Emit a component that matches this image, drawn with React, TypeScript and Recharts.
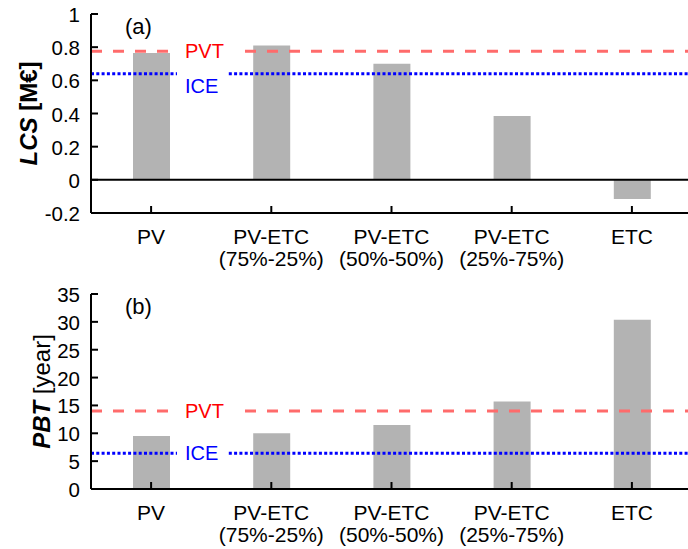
import React from 'react';
import { BarChart, Bar, XAxis, YAxis, ReferenceLine } from 'recharts';

const categories = ['PV', 'PV-ETC', 'PV-ETC', 'PV-ETC', 'ETC'];
const subLabels = ['', '(75%-25%)', '(50%-50%)', '(25%-75%)', ''];
const lcsValues = [0.765, 0.81, 0.70, 0.385, -0.115];
const pbtValues = [9.5, 10.0, 11.5, 15.7, 30.4];
const lcsTicks = [-0.2, 0, 0.2, 0.4, 0.6, 0.8, 1];
const pbtTicks = [0, 5, 10, 15, 20, 25, 30, 35];
const lcsRefs = { PVT: 0.775, ICE: 0.64 };
const pbtRefs = { PVT: 14.0, ICE: 6.4 };

const FONT = 'Liberation Sans, Arial, sans-serif';

const data = categories.map((c, i) => ({
  name: c,
  sub: subLabels[i],
  lcs: lcsValues[i],
  pbt: pbtValues[i],
}));

const XTick = (props: any) => {
  const { x, y, index } = props;
  return (
    <g>
      <line x1={x} x2={x} y1={y} y2={y - 7} stroke="#000" strokeWidth={2} />
      <text x={x} y={y + 31} textAnchor="middle" fontSize={21} fontFamily={FONT} fill="#000">
        {categories[index]}
      </text>
      {subLabels[index] && (
        <text x={x} y={y + 53} textAnchor="middle" fontSize={21} fontFamily={FONT} fill="#000">
          {subLabels[index]}
        </text>
      )}
    </g>
  );
};

const YTick = (props: any) => {
  const { x, y, payload } = props;
  const v = Math.round(payload.value * 10) / 10;
  return (
    <g>
      <line x1={x} x2={x + 7} y1={y} y2={y} stroke="#000" strokeWidth={2} />
      <text x={x - 11} y={y + 8} textAnchor="end" fontSize={20.5} fontFamily={FONT} fill="#000">
        {String(v)}
      </text>
    </g>
  );
};

// label on a reference line, with a white box that breaks the line behind it
const refLabel = (text: string, color: string, dy: number, padL: number, boxW: number) => (props: any) => {
  const { viewBox } = props;
  const tx = viewBox.x + 94;
  const ty = viewBox.y + dy;
  const top = Math.min(viewBox.y - 5, ty - 12);
  return (
    <g>
      <rect x={tx - padL} y={top} width={boxW} height={ty + 12 - top} fill="#fff" />
      <text x={tx} y={ty + 7} fontSize={20} fontFamily={FONT} fill={color}>
        {text}
      </text>
    </g>
  );
};

const yLabel = (main: string, unit: string, unitBold: boolean, dx: number) => (props: any) => {
  const { viewBox } = props;
  const cx = viewBox.x + dx;
  const cy = viewBox.y + viewBox.height / 2;
  return (
    <text
      x={cx}
      y={cy}
      transform={`rotate(-90, ${cx}, ${cy})`}
      textAnchor="middle"
      dominantBaseline="central"
      fontSize={24}
      fontFamily={FONT}
      fill="#000"
    >
      <tspan fontWeight="bold" fontStyle="italic">{main}</tspan>
      <tspan fontWeight={unitBold ? 'bold' : 'normal'}>{' ' + unit}</tspan>
    </text>
  );
};

const panelTag = (text: string) => (props: any) => {
  const { viewBox } = props;
  return (
    <text x={viewBox.x + 34} y={viewBox.y + 20} fontSize={22} fontFamily={FONT} fill="#000">
      {text}
    </text>
  );
};

const RED = '#ff6b6b';
const BLUE = '#0000ff';

export default function App() {
  return (
    <div style={{ position: 'absolute', left: 0, top: 0, width: 688, height: 549, overflow: 'hidden', background: '#fff' }}>
      <BarChart width={692} height={280} data={data} margin={{ top: 14, right: 0, left: 0, bottom: 0 }}>
        <XAxis
          dataKey="name"
          height={67}
          interval={0}
          tickSize={0}
          tickMargin={0}
          tickLine={false}
          tick={<XTick />}
          axisLine={{ stroke: '#000', strokeWidth: 2 }}
        />
        <YAxis
          width={91}
          domain={[-0.2, 1]}
          ticks={lcsTicks}
          interval={0}
          tickSize={0}
          tickMargin={0}
          tickLine={false}
          tick={<YTick />}
          axisLine={{ stroke: '#000', strokeWidth: 2 }}
          label={{ content: yLabel('LCS', '[M€]', true, 28) }}
        />
        <Bar dataKey="lcs" fill="#b3b3b3" barSize={37} isAnimationActive={false} />
        <ReferenceLine y={0} stroke="#000" strokeWidth={2} />
        <ReferenceLine
          y={lcsRefs.PVT}
          stroke={RED}
          strokeWidth={3}
          strokeDasharray="11 11"
          label={{ content: refLabel('PVT', '#ff0000', 0, 15, 73) }}
        />
        <ReferenceLine
          y={lcsRefs.ICE}
          stroke={BLUE}
          strokeWidth={3}
          strokeDasharray="3 2.3"
          label={{ content: refLabel('ICE', BLUE, 12, 8, 51) }}
        />
        <ReferenceLine y={1} stroke="none" label={{ content: panelTag('(a)') }} />
      </BarChart>
      <BarChart width={692} height={269} data={data} margin={{ top: 14, right: 0, left: 0, bottom: 0 }}>
        <XAxis
          dataKey="name"
          height={60}
          interval={0}
          tickSize={0}
          tickMargin={0}
          tickLine={false}
          tick={<XTick />}
          axisLine={{ stroke: '#000', strokeWidth: 2 }}
        />
        <YAxis
          width={91}
          domain={[0, 35]}
          ticks={pbtTicks}
          interval={0}
          tickSize={0}
          tickMargin={0}
          tickLine={false}
          tick={<YTick />}
          axisLine={{ stroke: '#000', strokeWidth: 2 }}
          label={{ content: yLabel('PBT', '[year]', false, 41) }}
        />
        <Bar dataKey="pbt" fill="#b3b3b3" barSize={37} isAnimationActive={false} />
        <ReferenceLine
          y={pbtRefs.PVT}
          stroke={RED}
          strokeWidth={3}
          strokeDasharray="11 11"
          label={{ content: refLabel('PVT', '#ff0000', 0, 15, 73) }}
        />
        <ReferenceLine
          y={pbtRefs.ICE}
          stroke={BLUE}
          strokeWidth={3}
          strokeDasharray="3 2.3"
          label={{ content: refLabel('ICE', BLUE, 0, 8, 51) }}
        />
        <ReferenceLine y={35} stroke="none" label={{ content: panelTag('(b)') }} />
      </BarChart>
    </div>
  );
}
